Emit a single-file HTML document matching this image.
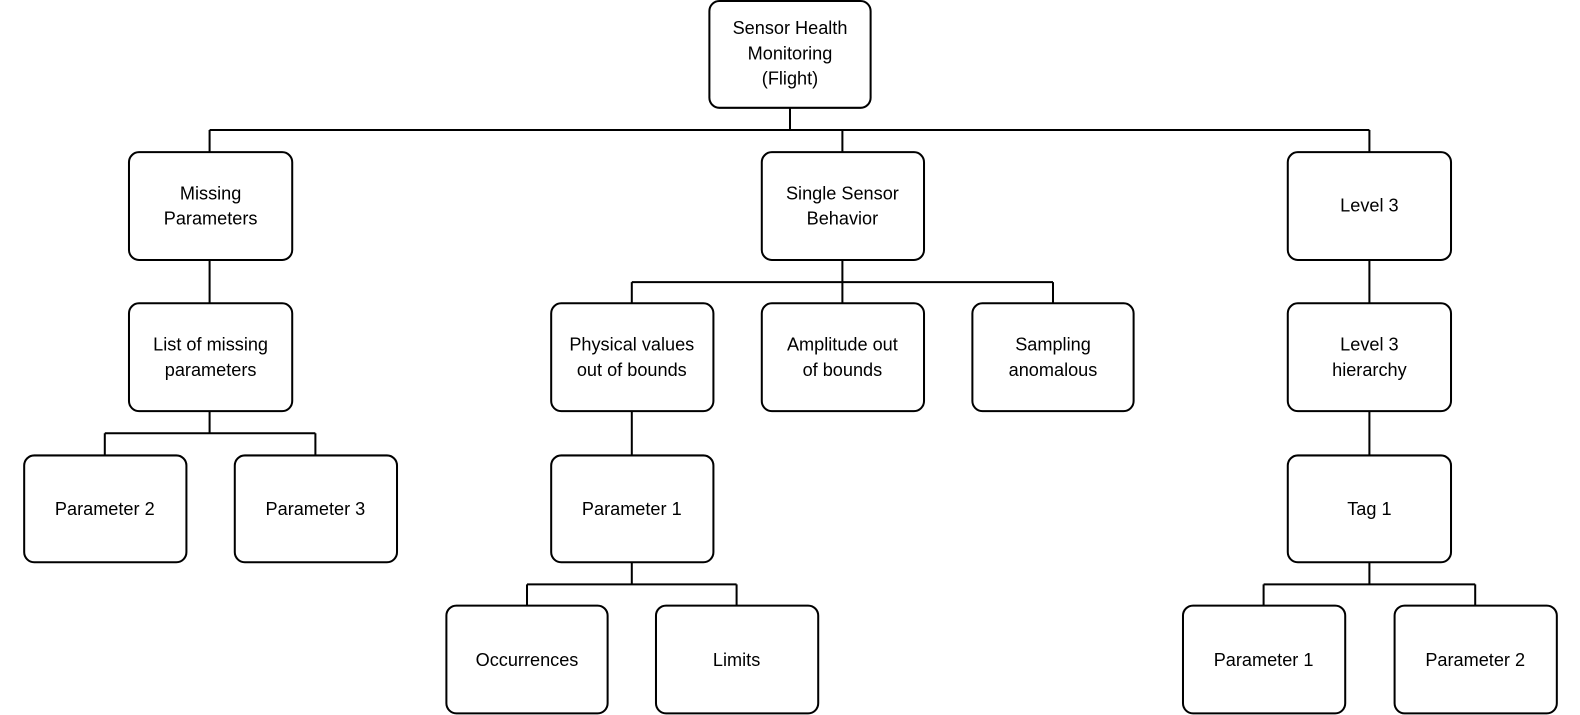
<!DOCTYPE html>
<html><head><meta charset="utf-8"><style>
html,body{margin:0;padding:0;background:#fff;}
svg{display:block}
text{font-family:"Liberation Sans",sans-serif;font-size:18px;fill:#000;text-anchor:middle;}
</style></head><body>
<svg width="1580" height="715" viewBox="0 0 1568 709.6" preserveAspectRatio="none" xmlns="http://www.w3.org/2000/svg">
<g stroke="#000" stroke-width="2" fill="none">
<path d="M784 107V129M208 129H1359M208 129V151M836 129V151M1359 129V151"/>
<path d="M208 258V301"/>
<path d="M208 408V430M104 430H313M104 430V452M313 430V452"/>
<path d="M836 258V280M627 280H1045M627 280V301M836 280V301M1045 280V301"/>
<path d="M627 408V452"/>
<path d="M627 558V580M523 580H731M523 580V601M731 580V601"/>
<path d="M1359 258V301M1359 408V452"/>
<path d="M1359 558V580M1254 580H1464M1254 580V601M1464 580V601"/>
</g>
<g stroke="#000" stroke-width="2" fill="#fff">
<rect x="704" y="1" width="160" height="106" rx="10"/>
<rect x="128" y="151" width="162" height="107" rx="10"/>
<rect x="756" y="151" width="161" height="107" rx="10"/>
<rect x="1278" y="151" width="162" height="107" rx="10"/>
<rect x="128" y="301" width="162" height="107" rx="10"/>
<rect x="547" y="301" width="161" height="107" rx="10"/>
<rect x="756" y="301" width="161" height="107" rx="10"/>
<rect x="965" y="301" width="160" height="107" rx="10"/>
<rect x="1278" y="301" width="162" height="107" rx="10"/>
<rect x="24" y="452" width="161" height="106" rx="10"/>
<rect x="233" y="452" width="161" height="106" rx="10"/>
<rect x="547" y="452" width="161" height="106" rx="10"/>
<rect x="1278" y="452" width="162" height="106" rx="10"/>
<rect x="443" y="601" width="160" height="107" rx="10"/>
<rect x="651" y="601" width="161" height="107" rx="10"/>
<rect x="1174" y="601" width="161" height="107" rx="10"/>
<rect x="1384" y="601" width="161" height="107" rx="10"/>
</g>
<text x="784" y="34">Sensor Health</text>
<text x="784" y="59">Monitoring</text>
<text x="784" y="84">(Flight)</text>
<text x="209" y="198">Missing</text>
<text x="209" y="223">Parameters</text>
<text x="836" y="198">Single Sensor</text>
<text x="836" y="223">Behavior</text>
<text x="1359" y="210">Level 3</text>
<text x="209" y="348">List of missing</text>
<text x="209" y="373">parameters</text>
<text x="627" y="348">Physical values</text>
<text x="627" y="373">out of bounds</text>
<text x="836" y="348">Amplitude out</text>
<text x="836" y="373">of bounds</text>
<text x="1045" y="348">Sampling</text>
<text x="1045" y="373">anomalous</text>
<text x="1359" y="348">Level 3</text>
<text x="1359" y="373">hierarchy</text>
<text x="104" y="511">Parameter 2</text>
<text x="313" y="511">Parameter 3</text>
<text x="627" y="511">Parameter 1</text>
<text x="1359" y="511">Tag 1</text>
<text x="523" y="661">Occurrences</text>
<text x="731" y="661">Limits</text>
<text x="1254" y="661">Parameter 1</text>
<text x="1464" y="661">Parameter 2</text>
</svg>
</body></html>
